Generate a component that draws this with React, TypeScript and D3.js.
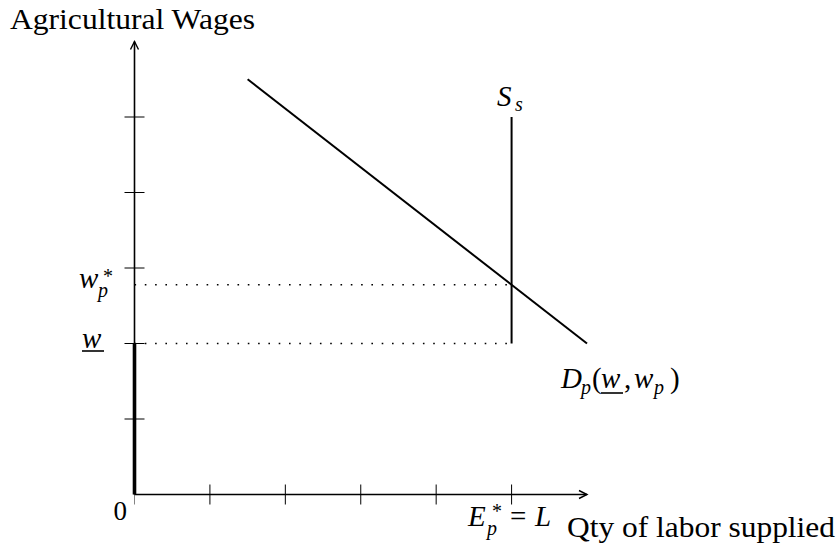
import React from "react";
import * as d3 from "d3";

// Labor market: vertical supply of plantation labor and downward-sloping demand
const xTicks = [1, 2, 3, 4, 5];
const yTicks = [1, 2, 3, 4, 5];
const axisMax = 6;
const demandCurve = [
  { q: 1.5, w: 5.5 },
  { q: 6, w: 2 },
];
const supplyCurve = [
  { q: 5, w: 2 },
  { q: 5, w: 5 },
];
const minWage = 2; // w underbar
const laborForce = 5; // E*_p = L

const W = 839;
const H = 545;
const serif = "Liberation Serif, Tinos, Times New Roman, serif";
const MATH = 29;
const SUB = 20;

export default function App() {
  const x = d3.scaleLinear().domain([0, axisMax]).range([134.5, 587]);
  const y = d3.scaleLinear().domain([0, axisMax]).range([494.5, 41.5]);

  // equilibrium wage where demand meets the vertical supply
  const slope = (demandCurve[1].w - demandCurve[0].w) / (demandCurve[1].q - demandCurve[0].q);
  const eqWage = demandCurve[0].w + slope * (laborForce - demandCurve[0].q);

  const line = d3
    .line<{ q: number; w: number }>()
    .x((d) => x(d.q))
    .y((d) => y(d.w));

  const x0 = x(0);
  const y0 = y(0);
  const xEnd = x(axisMax);
  const yEnd = y(axisMax);
  const tickHalf = 10;

  const txt: React.CSSProperties = { fontFamily: serif };

  return (
    <svg
      width={W}
      height={H}
      style={{ position: "absolute", left: 0, top: 0, background: "#fff" }}
    >
      {/* dotted guide lines */}
      {[eqWage, minWage].map((v, i) => (
        <line
          key={"g" + i}
          x1={x0}
          x2={x(laborForce)}
          y1={y(v)}
          y2={y(v)}
          stroke="#000"
          strokeWidth={1.6}
          strokeDasharray="1.6 8.7"
        />
      ))}

      {/* ticks */}
      {xTicks.map((t) => (
        <line key={"xt" + t} x1={x(t)} x2={x(t)} y1={y0 - tickHalf} y2={y0 + tickHalf} stroke="#000" strokeWidth={1} />
      ))}
      <line x1={x0} x2={x0} y1={y0} y2={y0 + tickHalf} stroke="#000" strokeWidth={0.8} opacity={0.6} />
      {yTicks.map((t) => (
        <line key={"yt" + t} x1={x0 - tickHalf} x2={x0 + tickHalf} y1={y(t)} y2={y(t)} stroke="#000" strokeWidth={1} />
      ))}

      {/* axes */}
      <line x1={x0} x2={xEnd} y1={y0} y2={y0} stroke="#000" strokeWidth={1.6} />
      <line x1={x0} x2={x0} y1={y0} y2={yEnd} stroke="#000" strokeWidth={1.6} />
      <path
        d={`M${xEnd - 8},${y0 - 4} L${xEnd},${y0} L${xEnd - 8},${y0 + 4}`}
        fill="none"
        stroke="#000"
        strokeWidth={1.4}
      />
      <path
        d={`M${x0 - 4},${yEnd + 8} L${x0},${yEnd} L${x0 + 4},${yEnd + 8}`}
        fill="none"
        stroke="#000"
        strokeWidth={1.4}
      />

      {/* wage floor segment on the wage axis */}
      <line x1={x0} x2={x0} y1={y0} y2={y(minWage)} stroke="#000" strokeWidth={3.6} />

      {/* demand and supply */}
      <path d={line(demandCurve) || ""} fill="none" stroke="#000" strokeWidth={2} />
      <path d={line(supplyCurve) || ""} fill="none" stroke="#000" strokeWidth={2} />

      {/* axis titles */}
      <text x={10} y={29} fontSize={30} textLength={245} lengthAdjust="spacingAndGlyphs" style={txt}>
        Agricultural Wages
      </text>
      <text x={567} y={537} fontSize={30} textLength={268} lengthAdjust="spacingAndGlyphs" style={txt}>
        Qty of labor supplied
      </text>
      <text x={127} y={520} fontSize={27} textAnchor="end" style={txt}>
        0
      </text>

      {/* w*_p */}
      <text fontSize={MATH} style={txt}>
        <tspan x={79} y={288} fontStyle="italic">w</tspan>
        <tspan x={103} y={283} fontSize={SUB}>*</tspan>
        <tspan x={98} y={297} fontSize={SUB} fontStyle="italic">p</tspan>
      </text>

      {/* w underbar */}
      <text x={82} y={348} fontSize={MATH} fontStyle="italic" style={txt}>w</text>
      <line x1={82} x2={104} y1={351} y2={351} stroke="#000" strokeWidth={1.6} />

      {/* S_s */}
      <text fontSize={MATH} fontStyle="italic" style={txt}>
        <tspan x={497} y={106}>S</tspan>
        <tspan x={515} y={111} fontSize={SUB}>s</tspan>
      </text>

      {/* E*_p = L */}
      <text fontSize={MATH} style={txt}>
        <tspan x={468} y={526} fontStyle="italic">E</tspan>
        <tspan x={492} y={518} fontSize={SUB}>*</tspan>
        <tspan x={487} y={535} fontSize={SUB} fontStyle="italic">p</tspan>
        <tspan x={510} y={526}>=</tspan>
        <tspan x={535} y={526} fontStyle="italic">L</tspan>
      </text>

      {/* D_p(w, w_p) */}
      <text fontSize={MATH} style={txt}>
        <tspan x={561} y={388} fontStyle="italic">D</tspan>
        <tspan x={581} y={394} fontSize={SUB} fontStyle="italic">p</tspan>
        <tspan x={592} y={388}>(</tspan>
        <tspan x={601} y={388} fontStyle="italic">w</tspan>
        <tspan x={624} y={388}>,</tspan>
        <tspan x={634} y={388} fontStyle="italic">w</tspan>
        <tspan x={654} y={394} fontSize={SUB} fontStyle="italic">p</tspan>
        <tspan x={670} y={388}>)</tspan>
      </text>
      <line x1={601} x2={623} y1={393} y2={393} stroke="#000" strokeWidth={1.6} />
    </svg>
  );
}
